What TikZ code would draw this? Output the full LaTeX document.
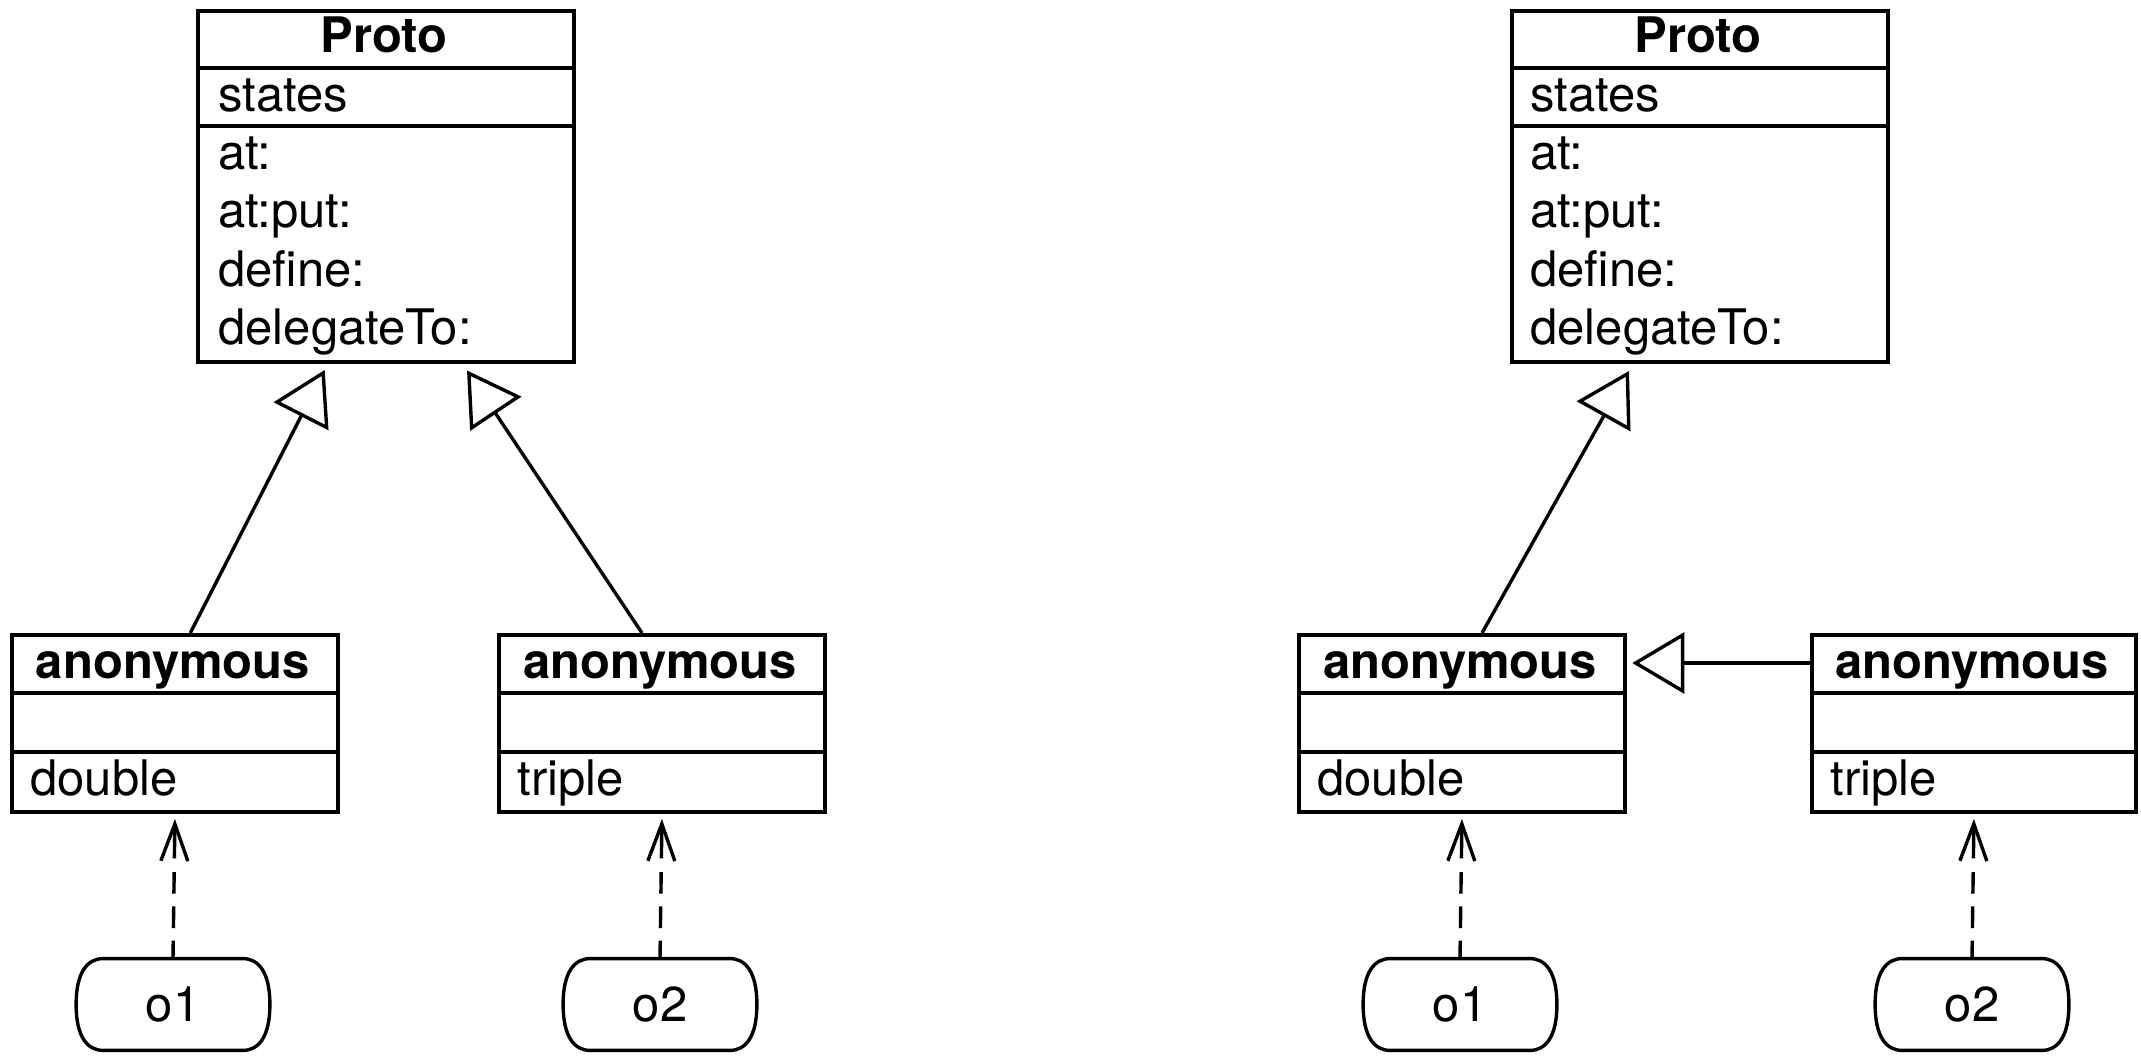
\documentclass[tikz,border=0pt]{standalone}
\usepackage{fontspec}
\setmainfont{TeX Gyre Heros}
\usetikzlibrary{arrows.meta,calc}
\begin{document}
\begin{tikzpicture}[x=0.5pt,y=-0.5pt,
  ln/.style={line width=1.9pt},
  cl/.style={line width=1.7pt},
  clsbox/.style={draw, line width=2pt, inner sep=0pt, anchor=north west},
  protobox/.style={clsbox, minimum width=188pt, minimum height=175.5pt},
  anonbox/.style={clsbox, minimum width=163pt, minimum height=88.5pt},
  ttl/.style={inner sep=0pt, font=\fontsize{24.5}{29}\selectfont\bfseries, anchor=base},
  item/.style={inner sep=0pt, font=\fontsize{24.5}{29}\selectfont, anchor=base west},
  obj/.style={inner sep=0pt, font=\fontsize{24.5}{29}\selectfont, minimum width=96.5pt, minimum height=45.5pt},
  gen/.style={line width=1.7pt, -{Triangle[open, length=26pt, width=30.5pt]}},
  dep/.style={line width=1.7pt, shorten >=2.5pt, -{Straight Barb[length=18.5pt, width=13.5pt]},
    dash pattern=on 9pt off 6.25pt on 10.85pt off 6.35pt on 10.8pt off 6.85pt on 100pt off 1pt},
]
\useasboundingbox (0,0) rectangle (2141,1058);

% ---------- left diagram ----------
\node[protobox] (P1) at (196,9) {};
\draw[ln] (P1.west |- 0,68) -- (P1.east |- 0,68);
\draw[ln] (P1.west |- 0,126) -- (P1.east |- 0,126);
\node[ttl] (P1t) at (384,53) {Proto};
\node[item] (P1a) at (218,112) {states};
\node[item] (P1m1) at (218,170) {at:};
\node[item] (P1m2) at (218,228) {at:put:};
\node[item] (P1m3) at (218,287) {define:};
\node[item] (P1m4) at (218,345) {delegateTo:};

\node[anonbox] (A1) at (10,633) {};
\draw[ln] (A1.west |- 0,693) -- (A1.east |- 0,693);
\draw[ln] (A1.west |- 0,752) -- (A1.east |- 0,752);
\node[ttl] (A1t) at (173,678) {anonymous};
\node[item] (A1m) at (30,795) {double};

\node[anonbox] (A2) at (497,633) {};
\draw[ln] (A2.west |- 0,693) -- (A2.east |- 0,693);
\draw[ln] (A2.west |- 0,752) -- (A2.east |- 0,752);
\node[ttl] (A2t) at (660,678) {anonymous};
\node[item] (A2m) at (517,795) {triple};

\node[obj] (o1) at (173,1004.5) {o1};
\node[obj] (o2) at (660,1004.5) {o2};

\draw[gen] ($(A1.north)+(15.3,0)$) -- ($(P1.south)+(-61.3,6)$);
\draw[gen] ($(A2.north)+(-20,0)$) -- ($(P1.south)+(81,6.5)$);
\draw[dep] (o1.north) -- (A1.south);
\draw[dep] (o2.north) -- (A2.south);

% ---------- right diagram ----------
\node[protobox] (P2) at (1510,9) {};
\draw[ln] (P2.west |- 0,68) -- (P2.east |- 0,68);
\draw[ln] (P2.west |- 0,126) -- (P2.east |- 0,126);
\node[ttl] (P2t) at (1698,53) {Proto};
\node[item] (P2a) at (1530,112) {states};
\node[item] (P2m1) at (1530,170) {at:};
\node[item] (P2m2) at (1530,228) {at:put:};
\node[item] (P2m3) at (1530,287) {define:};
\node[item] (P2m4) at (1530,345) {delegateTo:};

\node[anonbox] (A3) at (1297,633) {};
\draw[ln] (A3.west |- 0,693) -- (A3.east |- 0,693);
\draw[ln] (A3.west |- 0,752) -- (A3.east |- 0,752);
\node[ttl] (A3t) at (1460,678) {anonymous};
\node[item] (A3m) at (1317,795) {double};

\node[anonbox, minimum width=162pt] (A4) at (1810,633) {};
\draw[ln] (A4.west |- 0,693) -- (A4.east |- 0,693);
\draw[ln] (A4.west |- 0,752) -- (A4.east |- 0,752);
\node[ttl] (A4t) at (1972,678) {anonymous};
\node[item] (A4m) at (1830,795) {triple};

\node[obj] (o3) at (1460,1004.5) {o1};
\node[obj] (o4) at (1972,1004.5) {o2};

\draw[gen] ($(A3.north)+(20,0)$) -- ($(P2.south)+(-71,7)$);
\draw[gen] ($(A4.north west)+(0,30)$) -- ($(A3.north east)+(5.3,30)$);
\draw[dep] (o3.north) -- (A3.south);
\draw[dep] (o4.north) -- (A4.south);

% object outlines
\foreach \n in {o1,o2,o3,o4}{
  \draw[cl] ($(\n.north west)+(27,0)$) -- ($(\n.north east)+(-27,0)$)
    .. controls ($(\n.north east)+(-11,0)$) and ($(\n.north east)+(0,14)$) .. (\n.east)
    .. controls ($(\n.south east)+(0,-14)$) and ($(\n.south east)+(-11,0)$) .. ($(\n.south east)+(-27,0)$)
    -- ($(\n.south west)+(27,0)$)
    .. controls ($(\n.south west)+(11,0)$) and ($(\n.south west)+(0,-14)$) .. (\n.west)
    .. controls ($(\n.north west)+(0,14)$) and ($(\n.north west)+(11,0)$) .. ($(\n.north west)+(27,0)$)
    -- cycle;
}
\end{tikzpicture}
\end{document}
